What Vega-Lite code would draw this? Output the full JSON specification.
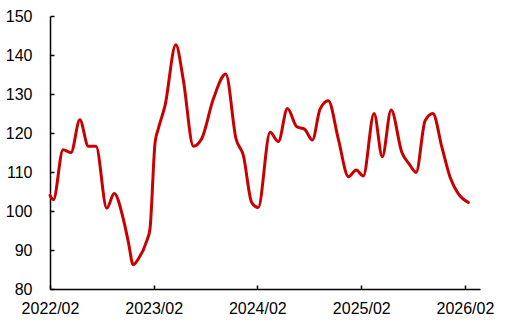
{
  "$schema": "https://vega.github.io/schema/vega-lite/v6.json",
  "autosize": "none",
  "width": 430,
  "height": 273,
  "padding": {"left": 50, "top": 16, "right": 30, "bottom": 36},
  "config": {
    "view": {"stroke": null},
    "font": "Liberation Sans",
    "axis": {"grid": false, "domainColor": "#000000", "domainWidth": 1.5, "tickColor": "#000000", "tickWidth": 1.5, "labelColor": "#000000", "labelFont": "Liberation Sans", "labelFontSize": 16, "title": null}
  },
  "data": {"values": [
    {"date": "2022-02-01", "value": 104.0},
    {"date": "2022-02-13", "value": 102.9},
    {"date": "2022-03-19", "value": 115.7},
    {"date": "2022-04-16", "value": 115.0},
    {"date": "2022-05-17", "value": 123.4},
    {"date": "2022-06-16", "value": 116.6},
    {"date": "2022-07-13", "value": 116.6},
    {"date": "2022-08-20", "value": 100.7},
    {"date": "2022-09-15", "value": 104.5},
    {"date": "2022-10-17", "value": 98.0},
    {"date": "2022-11-04", "value": 92.0},
    {"date": "2022-11-21", "value": 86.2},
    {"date": "2022-12-09", "value": 87.7},
    {"date": "2023-01-08", "value": 92.4},
    {"date": "2023-01-19", "value": 95.4},
    {"date": "2023-02-06", "value": 117.6},
    {"date": "2023-02-17", "value": 121.0},
    {"date": "2023-03-13", "value": 127.0},
    {"date": "2023-04-20", "value": 142.6},
    {"date": "2023-05-16", "value": 133.8},
    {"date": "2023-06-21", "value": 116.6},
    {"date": "2023-07-20", "value": 118.5},
    {"date": "2023-08-30", "value": 128.7},
    {"date": "2023-10-13", "value": 135.1},
    {"date": "2023-11-18", "value": 118.5},
    {"date": "2023-12-14", "value": 114.2},
    {"date": "2024-01-12", "value": 102.2},
    {"date": "2024-02-04", "value": 100.9},
    {"date": "2024-03-17", "value": 120.2},
    {"date": "2024-04-15", "value": 117.8},
    {"date": "2024-05-17", "value": 126.3},
    {"date": "2024-06-19", "value": 121.6},
    {"date": "2024-07-16", "value": 121.0},
    {"date": "2024-08-13", "value": 118.2},
    {"date": "2024-09-09", "value": 126.2},
    {"date": "2024-10-08", "value": 128.3},
    {"date": "2024-11-12", "value": 118.5},
    {"date": "2024-12-18", "value": 108.8},
    {"date": "2025-01-14", "value": 110.5},
    {"date": "2025-02-08", "value": 109.0},
    {"date": "2025-03-18", "value": 125.0},
    {"date": "2025-04-16", "value": 113.9},
    {"date": "2025-05-17", "value": 125.9},
    {"date": "2025-06-24", "value": 115.0},
    {"date": "2025-07-20", "value": 112.0},
    {"date": "2025-08-13", "value": 109.9},
    {"date": "2025-09-14", "value": 123.2},
    {"date": "2025-10-11", "value": 125.0},
    {"date": "2025-11-12", "value": 116.3},
    {"date": "2025-12-11", "value": 108.6},
    {"date": "2026-01-09", "value": 104.4},
    {"date": "2026-02-13", "value": 102.2}
  ]},
  "mark": {"type": "line", "color": "#c80000", "strokeWidth": 3, "interpolate": "monotone", "strokeCap": "round", "strokeJoin": "round"},
  "encoding": {
    "x": {
      "field": "date", "type": "temporal",
      "scale": {"type": "utc", "domain": [{"year": 2022, "month": 2, "date": 1, "utc": true}, {"year": 2026, "month": 3, "date": 26, "utc": true}]},
      "axis": {
        "labelExpr": "utcFormat(datum.value, '%Y/%m')",
        "values": [
          {"year": 2022, "month": 2, "date": 1, "utc": true},
          {"year": 2023, "month": 2, "date": 1, "utc": true},
          {"year": 2024, "month": 2, "date": 1, "utc": true},
          {"year": 2025, "month": 2, "date": 1, "utc": true},
          {"year": 2026, "month": 2, "date": 1, "utc": true}
        ],
        "tickSize": -4, "labelPadding": 15, "labelAngle": 0, "labelDx": 3, "labelFlush": false, "labelOverlap": false
      }
    },
    "y": {
      "field": "value", "type": "quantitative",
      "scale": {"domain": [80, 150], "zero": false, "nice": false},
      "axis": {"values": [80, 90, 100, 110, 120, 130, 140, 150], "tickSize": -4, "labelPadding": 22, "labelFlush": false}
    }
  }
}
